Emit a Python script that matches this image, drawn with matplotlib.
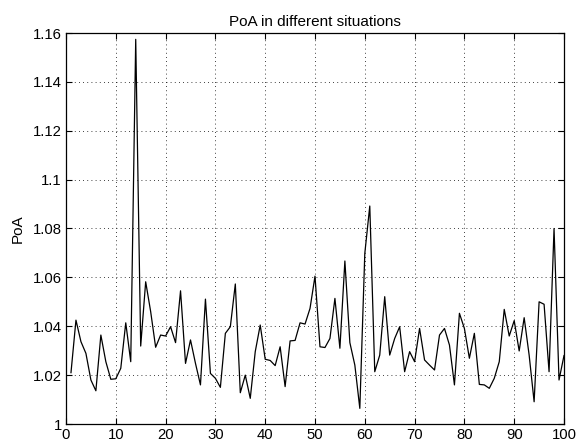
import matplotlib
matplotlib.use("Agg")
import matplotlib.pyplot as plt
from matplotlib.ticker import FuncFormatter

x_vals = list(range(1, 101))
poa = [
    1.0210, 1.0425, 1.0337, 1.0289, 1.0180, 1.0136, 1.0364, 1.0255, 1.0183, 1.0185,
    1.0228, 1.0414, 1.0255, 1.1574, 1.0319, 1.0582, 1.0460, 1.0314, 1.0364, 1.0360,
    1.0398, 1.0333, 1.0545, 1.0248, 1.0344, 1.0248, 1.0160, 1.0511, 1.0207, 1.0187,
    1.0150, 1.0371, 1.0398, 1.0573, 1.0128, 1.0200, 1.0105, 1.0296, 1.0405, 1.0265,
    1.0260, 1.0239, 1.0316, 1.0153, 1.0340, 1.0342, 1.0414, 1.0409, 1.0473, 1.0605,
    1.0316, 1.0313, 1.0350, 1.0514, 1.0310, 1.0667, 1.0333, 1.0241, 1.0064, 1.0698,
    1.0892, 1.0214, 1.0282, 1.0521, 1.0282, 1.0350, 1.0398, 1.0214, 1.0296, 1.0255,
    1.0391, 1.0262, 1.0241, 1.0221, 1.0364, 1.0391, 1.0323, 1.0160, 1.0453, 1.0391,
    1.0269, 1.0371, 1.0162, 1.0160, 1.0146, 1.0187, 1.0255, 1.0469, 1.0360, 1.0423,
    1.0299, 1.0435, 1.0282, 1.0091, 1.0500, 1.0490, 1.0214, 1.0800, 1.0180, 1.0280,
]
x_ticks = list(range(0, 101, 10))
y_ticks = [1.00, 1.02, 1.04, 1.06, 1.08, 1.10, 1.12, 1.14, 1.16]

plt.rcParams['font.family'] = ['Liberation Sans', 'DejaVu Sans']
fig = plt.figure(figsize=(5.78, 4.48), dpi=100)
ax = fig.add_axes([66/578, 1-424/448, (564-66)/578, (424-33)/448])
ax.plot(x_vals, poa, color='black', linewidth=0.9)
ax.set_xlim(0, 100)
ax.set_ylim(1.0, 1.16)
ax.set_xticks(x_ticks)
ax.set_yticks(y_ticks)
ax.yaxis.set_major_formatter(FuncFormatter(lambda v, p: f"{v:g}"))
ax.tick_params(direction='in', top=True, right=True, labelsize=10.7, length=4, width=0.8, pad=3)
ax.grid(True, linestyle=(0, (1, 4)), color='black', linewidth=0.6)
for s in ax.spines.values():
    s.set_linewidth(0.9)
ax.set_title('PoA in different situations', fontsize=11, pad=5)
ax.set_ylabel('PoA', fontsize=11, labelpad=6)
fig.savefig('out.png', dpi=100)
